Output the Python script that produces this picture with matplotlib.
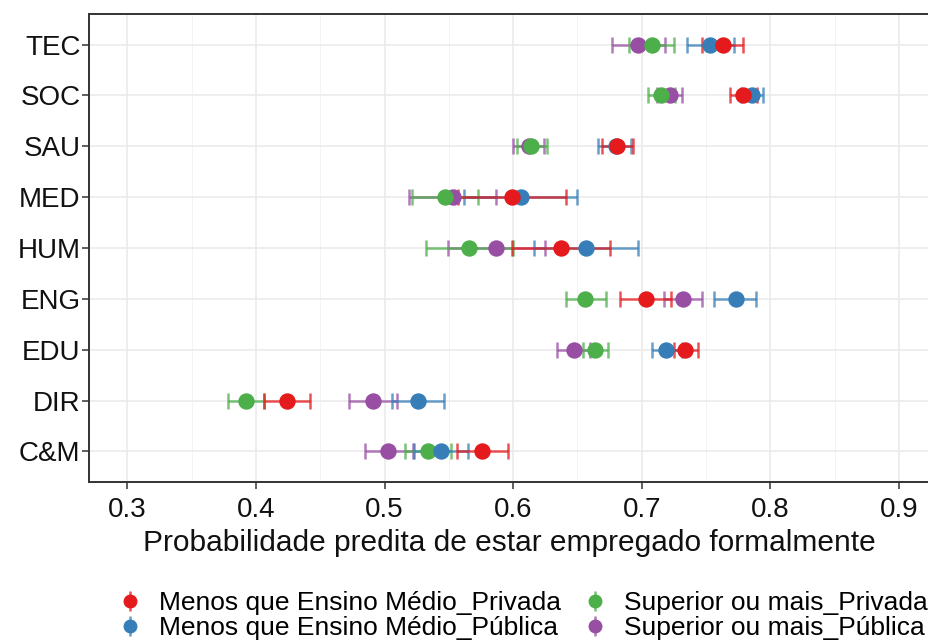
import numpy as np
import matplotlib
matplotlib.use('Agg')
import matplotlib.pyplot as plt
from matplotlib.lines import Line2D
from matplotlib.legend_handler import HandlerTuple
from matplotlib.ticker import MultipleLocator

plt.rcParams['font.family'] = ['Liberation Sans', 'DejaVu Sans']

# categories from bottom to top
categories = ['C&M', 'DIR', 'EDU', 'ENG', 'HUM', 'MED', 'SAU', 'SOC', 'TEC']

# Menos que Ensino Médio_Privada
menos_priv = [0.576, 0.424, 0.734, 0.703, 0.637, 0.599, 0.681, 0.779, 0.763]
menos_priv_lo = [0.556, 0.406, 0.725, 0.683, 0.599, 0.557, 0.669, 0.769, 0.747]
menos_priv_hi = [0.596, 0.442, 0.744, 0.723, 0.675, 0.641, 0.693, 0.790, 0.779]

# Menos que Ensino Médio_Pública
menos_pub = [0.544, 0.526, 0.719, 0.773, 0.657, 0.606, 0.680, 0.786, 0.753]
menos_pub_lo = [0.523, 0.506, 0.708, 0.756, 0.616, 0.562, 0.666, 0.777, 0.735]
menos_pub_hi = [0.565, 0.546, 0.731, 0.789, 0.697, 0.650, 0.692, 0.794, 0.772]

# Superior ou mais_Privada
sup_priv = [0.534, 0.392, 0.664, 0.656, 0.566, 0.547, 0.614, 0.715, 0.708]
sup_priv_lo = [0.516, 0.378, 0.654, 0.641, 0.532, 0.521, 0.603, 0.705, 0.690]
sup_priv_hi = [0.552, 0.406, 0.674, 0.672, 0.600, 0.573, 0.626, 0.726, 0.725]

# Superior ou mais_Pública
sup_pub = [0.503, 0.491, 0.647, 0.732, 0.587, 0.553, 0.612, 0.722, 0.697]
sup_pub_lo = [0.485, 0.472, 0.634, 0.717, 0.549, 0.519, 0.600, 0.712, 0.677]
sup_pub_hi = [0.522, 0.510, 0.660, 0.747, 0.625, 0.587, 0.624, 0.731, 0.718]

series = [
    ('Menos que Ensino Médio_Privada', '#E41A1C', menos_priv, menos_priv_lo, menos_priv_hi),
    ('Menos que Ensino Médio_Pública', '#377EB8', menos_pub, menos_pub_lo, menos_pub_hi),
    ('Superior ou mais_Privada', '#4DAF4A', sup_priv, sup_priv_lo, sup_priv_hi),
    ('Superior ou mais_Pública', '#984EA3', sup_pub, sup_pub_lo, sup_pub_hi),
]
draw_order = [3, 2, 1, 0]

fig = plt.figure(figsize=(9.29, 6.4), dpi=100)
ax = fig.add_axes([0.0957, 0.247, 0.9043, 0.731])

y = np.arange(1, len(categories) + 1)
for i in draw_order:
    name, col, mid, lo, hi = series[i]
    mid = np.array(mid)
    err = [mid - np.array(lo), np.array(hi) - mid]
    ax.errorbar(mid, y, xerr=err, fmt='none', ecolor=col, elinewidth=1.8,
                capsize=5.5, capthick=1.8, alpha=0.75, zorder=3)
    ax.plot(mid, y, 'o', color=col, ms=10.8, zorder=4)

ax.set_xlim(0.27, 0.9235)
ax.set_ylim(0.4, 9.6)
ax.set_yticks(y)
ax.set_yticklabels(categories)
ax.xaxis.set_minor_locator(MultipleLocator(0.05))
ax.set_xticks([0.3, 0.4, 0.5, 0.6, 0.7, 0.8, 0.9])
ax.set_xticklabels(['0.3', '0.4', '0.5', '0.6', '0.7', '0.8', '0.9'])

ax.grid(which='major', color='#EBEBEB', lw=1.2, zorder=0)
ax.grid(which='minor', axis='x', color='#F3F3F3', lw=0.7, zorder=0)
ax.set_axisbelow(True)
ax.tick_params(axis='both', which='major', length=5, width=1.1, color='#333333',
               labelcolor='#111111')
ax.tick_params(axis='y', labelsize=20, pad=1)
ax.tick_params(axis='x', labelsize=20, pad=6)
ax.tick_params(axis='x', which='minor', length=0)
for s in ax.spines.values():
    s.set_color('#333333')
    s.set_linewidth(1.4)

ax.set_xlabel('Probabilidade predita de estar empregado formalmente',
              fontsize=21.5, color='#111111', labelpad=4)

handles = []
labels = []
for name, col, mid, lo, hi in series:
    h = (Line2D([], [], color=col, marker='|', ms=14, mew=1.8, ls='none', alpha=0.75),
         Line2D([], [], color=col, marker='o', ms=9, ls='none'))
    handles.append(h)
    labels.append(name)

fig.legend(handles, labels, ncol=2, loc='center', bbox_to_anchor=(0.562, 0.038),
           frameon=False, fontsize=19, handler_map={tuple: HandlerTuple(ndivide=1)},
           handlelength=1.0, handletextpad=0.6, columnspacing=0.8, labelspacing=0.06,
           borderpad=0.2)

fig.savefig('out.png', dpi=100)
